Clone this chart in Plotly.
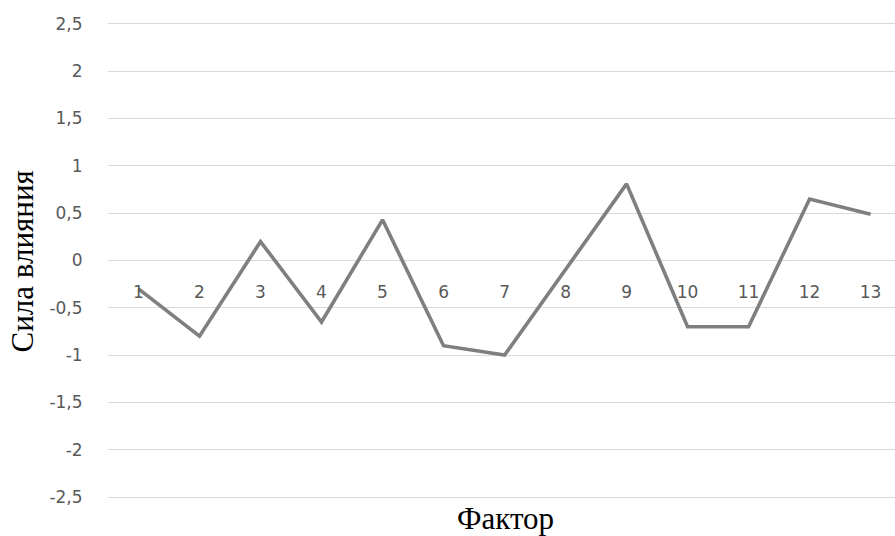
import plotly.graph_objects as go

# Factor numbers and their influence strength
factors = [1, 2, 3, 4, 5, 6, 7, 8, 9, 10, 11, 12, 13]
influence = [-0.3, -0.8, 0.2, -0.65, 0.43, -0.9, -1.0, -0.1, 0.81, -0.7, -0.7, 0.65, 0.49]
y_ticks = [-2.5, -2, -1.5, -1, -0.5, 0, 0.5, 1, 1.5, 2, 2.5]
y_tick_text = [f"{v:g}".replace(".", ",") for v in y_ticks]

fig = go.Figure()
fig.add_trace(go.Scatter(
    x=factors, y=influence, mode="lines",
    line=dict(color="#7f7f7f", width=3.6),
    showlegend=False, hoverinfo="skip",
))

tick_font = dict(family="DejaVu Sans, sans-serif", size=17, color="#595959")
title_font = dict(family="Liberation Serif, Times New Roman, serif", size=31, color="black")

# plot area padded slightly so the outer gridlines at ±2.5 are drawn
top, bottom, left = 22, 37, 108
plot_w = 895 - left
plot_h = 536 - top - bottom


def py(pixel_y):
    return (536 - bottom - pixel_y) / plot_h


fig.update_layout(
    width=895, height=536,
    margin=dict(l=left, r=0, t=top, b=bottom),
    paper_bgcolor="white", plot_bgcolor="white",
    xaxis=dict(
        range=[0.5, 13.4],
        tickmode="array", tickvals=factors, ticktext=[str(f) for f in factors],
        anchor="free", position=0.5,
        showgrid=False, zeroline=False, showline=False,
        ticks="outside", ticklen=16, tickcolor="rgba(0,0,0,0)",
        tickfont=tick_font,
    ),
    yaxis=dict(
        range=[-2.52, 2.52],
        tickmode="array", tickvals=y_ticks, ticktext=y_tick_text,
        showgrid=True, gridcolor="#d9d9d9", gridwidth=1,
        zeroline=False, showline=False,
        ticks="outside", ticklen=21, tickcolor="rgba(0,0,0,0)",
        tickfont=tick_font,
    ),
    annotations=[
        dict(text="Сила влияния", xref="paper", yref="paper",
             x=(21.5 - left) / plot_w, y=py(262),
             xanchor="center", yanchor="middle",
             textangle=-90, showarrow=False, font=title_font),
        dict(text="Фактор", xref="paper", yref="paper",
             x=(506 - left) / plot_w, y=py(518),
             xanchor="center", yanchor="middle",
             showarrow=False, font=title_font),
    ],
)

fig.write_html("out.html")
